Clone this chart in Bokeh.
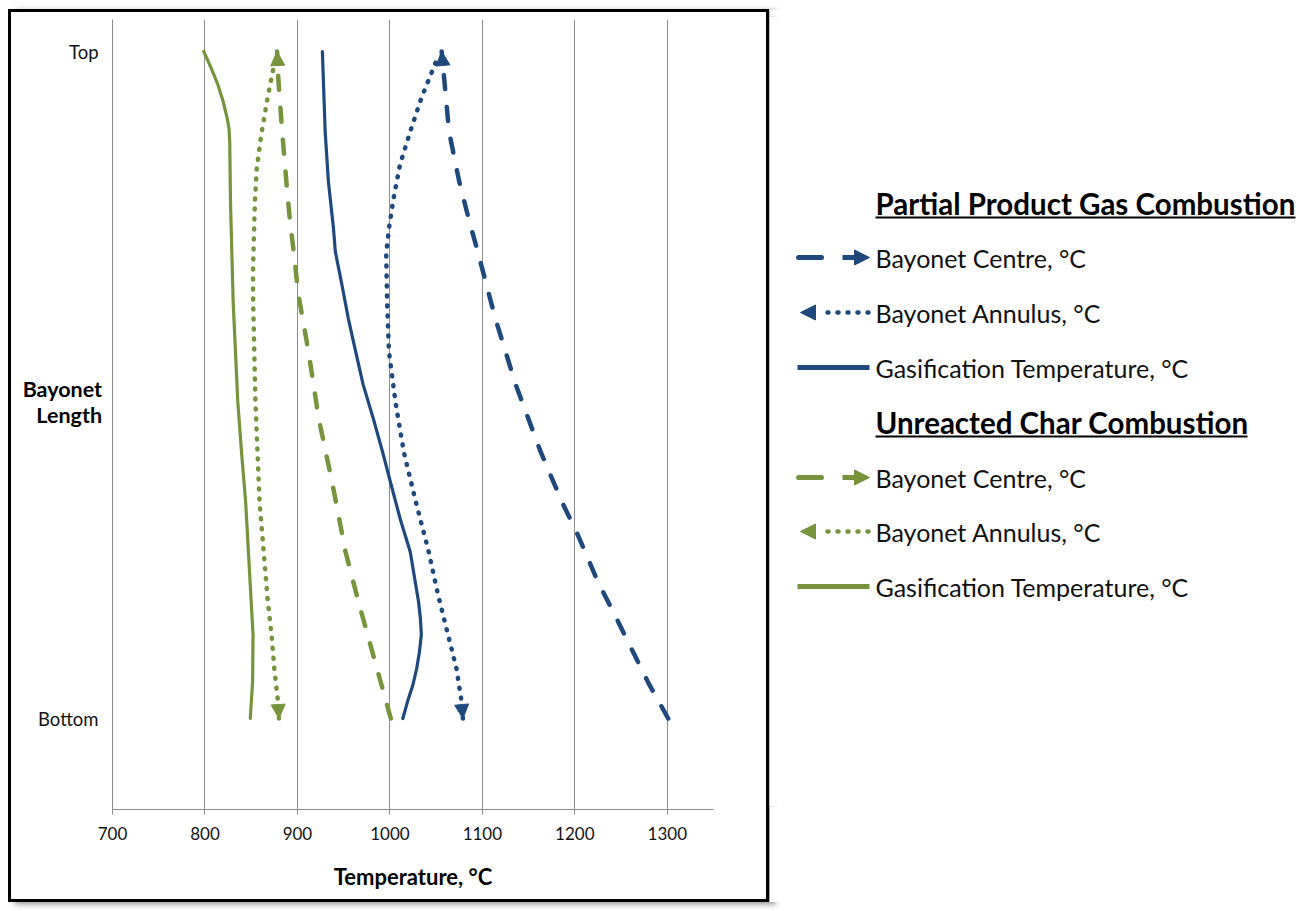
from bokeh.plotting import figure
from bokeh.models import Range1d, FixedTicker, Arrow, NormalHead, Spacer
from bokeh.layouts import row, column
from bokeh.embed import file_html
from bokeh.resources import INLINE
from bokeh.core.properties import value

# ---------------- data (position along bayonet: 0 = Bottom, 1 = Top; temperature in °C)
y_ticks = [0, 1]
y_tick_labels = ["Bottom", "Top"]
x_ticks = [700, 800, 900, 1000, 1100, 1200, 1300]

# Partial Product Gas Combustion
ppgc_centre_pos = [0.000, 0.055, 0.111, 0.156, 0.205, 0.276, 0.325, 0.400, 0.501, 0.600, 0.700, 0.745, 0.805, 0.880, 0.955, 1.000]
ppgc_centre_temp = [1301, 1279, 1259, 1243, 1225, 1203, 1186, 1163, 1136, 1114, 1095, 1086, 1075, 1064, 1059, 1056]

ppgc_annulus_pos = [0.000, 0.030, 0.075, 0.186, 0.250, 0.325, 0.400, 0.475, 0.550, 0.625, 0.696, 0.735, 0.780, 0.831, 0.880, 0.930, 0.982, 0.992]
ppgc_annulus_temp = [1079, 1077, 1072, 1052, 1042, 1028, 1015, 1006, 999, 997, 996, 999, 1004, 1011, 1022, 1034, 1049, 1053]

ppgc_gasif_pos = [0.000, 0.025, 0.051, 0.075, 0.100, 0.126, 0.150, 0.175, 0.250, 0.300, 0.355, 0.400, 0.450, 0.501, 0.550, 0.600, 0.651, 0.700, 0.735, 0.805, 0.880, 1.000]
ppgc_gasif_temp = [1014, 1019, 1025, 1029, 1032, 1034, 1033, 1031, 1022, 1011, 1000.5, 992, 982, 971, 963, 955, 948, 941, 939, 933.5, 930, 927]

# Unreacted Char Combustion
ucc_centre_pos = [0.000, 0.060, 0.115, 0.175, 0.250, 0.351, 0.450, 0.550, 0.636, 0.700, 0.745, 0.805, 0.880, 0.955, 1.000]
ucc_centre_temp = [1001, 989, 978, 966, 952, 938, 923, 912, 901, 896, 892, 888, 883.5, 879.5, 878]

ucc_annulus_pos = [0.000, 0.025, 0.075, 0.126, 0.175, 0.325, 0.475, 0.633, 0.675, 0.726, 0.775, 0.825, 0.876, 0.925, 0.975, 0.990]
ucc_annulus_temp = [880, 879, 875, 872, 868, 859, 854.6, 852, 852, 853, 854, 856, 861, 867, 874, 877]

ucc_gasif_pos = [0.000, 0.055, 0.126, 0.175, 0.325, 0.400, 0.475, 0.625, 0.775, 0.865, 0.885, 0.900, 0.925, 0.951, 0.975, 1.000]
ucc_gasif_temp = [849, 851.5, 852, 850, 844, 839.5, 835.5, 830.5, 827.6, 826.8, 826, 824, 819.7, 813.8, 806.7, 798.7]

group_titles = ["Partial Product Gas Combustion", "Unreacted Char Combustion"]
series_labels = ["Bayonet Centre, °C", "Bayonet Annulus, °C", "Gasification Temperature, °C"]
y_title = "Bayonet\nLength\n "

BLUE = "#1F497D"
GREEN = "#77933C"
GRID = "#8C8C8C"
FONT = "Lato"

groups = [
    (BLUE, (ppgc_centre_temp, ppgc_centre_pos), (ppgc_annulus_temp, ppgc_annulus_pos), (ppgc_gasif_temp, ppgc_gasif_pos)),
    (GREEN, (ucc_centre_temp, ucc_centre_pos), (ucc_annulus_temp, ucc_annulus_pos), (ucc_gasif_temp, ucc_gasif_pos)),
]

# ---------------- main chart
p = figure(width=761, height=893,
           x_range=Range1d(700, 1350), y_range=Range1d(-0.1364, 1.048),
           output_backend="svg", toolbar_location=None,
           min_border_left=101, min_border_right=59, min_border_top=7, min_border_bottom=96,
           styles={"border": "3px solid #000000", "box-shadow": "7px 2px 6px rgba(0,0,0,0.45)"})
p.outline_line_color = None
p.background_fill_color = "white"
p.border_fill_color = "white"

p.xaxis.ticker = FixedTicker(ticks=x_ticks)
p.xgrid.ticker = FixedTicker(ticks=x_ticks)
p.xgrid.grid_line_color = GRID
p.xgrid.grid_line_width = 1
p.ygrid.visible = False

p.xaxis.axis_line_color = GRID
p.xaxis.major_tick_line_color = GRID
p.xaxis.major_tick_out = 5
p.xaxis.major_tick_in = 0
p.xaxis.minor_tick_line_color = None
p.xaxis.major_label_standoff = 12
p.xaxis.major_label_text_font = FONT
p.xaxis.major_label_text_font_size = "17px"
p.xaxis.major_label_text_color = "#111111"
p.xaxis.axis_label = "Temperature, °C"
p.xaxis.axis_label_text_font = FONT
p.xaxis.axis_label_text_font_style = "bold"
p.xaxis.axis_label_text_font_size = "22px"
p.xaxis.axis_label_text_color = "#000000"
p.xaxis.axis_label_standoff = 20

p.yaxis.ticker = FixedTicker(ticks=y_ticks)
p.yaxis.major_label_overrides = {t: l for t, l in zip(y_ticks, y_tick_labels)}
p.yaxis.axis_line_color = GRID
p.yaxis.major_tick_out = 0
p.yaxis.major_tick_in = 0
p.yaxis.minor_tick_line_color = None
p.yaxis.major_label_standoff = 14
p.yaxis.major_label_text_font = FONT
p.yaxis.major_label_text_font_size = "18.5px"
p.yaxis.major_label_text_color = "#111111"
# horizontal axis title pulled into the tick-label column
p.yaxis.axis_label = y_title
p.yaxis.axis_label_orientation = "horizontal"
p.yaxis.axis_label_text_font = FONT
p.yaxis.axis_label_text_font_size = "21.5px"
p.yaxis.axis_label_text_font_style = "bold"
p.yaxis.axis_label_text_color = "#000000"
p.yaxis.axis_label_text_align = "center"
p.yaxis.axis_label_text_line_height = 1.0
p.yaxis.axis_label_standoff = -67

for color, centre, annulus, gasif in groups:
    ct, cp = centre
    at, ap = annulus
    gt, gp = gasif
    p.line(ct, cp, line_color=color, line_width=4.5, line_dash="14 18", line_cap="round")
    p.line(at, ap, line_color=color, line_width=4.5, line_dash="1 9", line_cap="round")
    p.line(gt, gp, line_color=color, line_width=3.2, line_cap="round", line_join="round")
    # centre flows upward: arrow head at the top end
    p.add_layout(Arrow(end=NormalHead(size=14, fill_color=color, line_color=color, line_width=1),
                       x_start=ct[-2], y_start=cp[-2], x_end=ct[-1], y_end=cp[-1], line_alpha=0))
    # annulus flows downward: arrow head at the bottom end
    p.add_layout(Arrow(end=NormalHead(size=14, fill_color=color, line_color=color, line_width=1),
                       x_start=at[1], y_start=ap[1], x_end=at[0], y_end=ap[0], line_alpha=0))

# ---------------- legend panel (page-pixel coordinates; its frame aligns with the chart frame)
lg = figure(width=530, height=893, x_range=Range1d(769, 1299), y_range=Range1d(808, 18),
            output_backend="svg", toolbar_location=None, min_border=0,
            x_axis_type=None, y_axis_type=None)
lg.grid.visible = False
lg.outline_line_color = None
lg.background_fill_color = "white"
lg.border_fill_color = "white"

title_y = [205, 424]
underline_len = [420, 372]
row_y = [[259, 314, 369], [479, 533, 588]]
TX = 875

for gi, (color, *_rest) in enumerate(groups):
    lg.text(x=[TX], y=[title_y[gi]], text=[group_titles[gi]], text_font=value(FONT),
            text_font_size="29.5px", text_font_style="bold", text_baseline="middle",
            text_color="#000000")
    lg.segment(x0=[TX], y0=[title_y[gi] + 14], x1=[TX + underline_len[gi]], y1=[title_y[gi] + 14],
               line_color="#000000", line_width=2.2)
    ys = row_y[gi]
    # centre: dash then arrow
    lg.segment(x0=[798], y0=[ys[0]], x1=[821], y1=[ys[0]], line_color=color, line_width=5, line_cap="round")
    lg.add_layout(Arrow(end=NormalHead(size=15, fill_color=color, line_color=color, line_width=1),
                        x_start=842, y_start=ys[0], x_end=869, y_end=ys[0],
                        line_color=color, line_width=5))
    # annulus: arrow then dots
    lg.segment(x0=[827], y0=[ys[1]], x1=[869], y1=[ys[1]], line_color=color, line_width=4.5,
               line_dash="1 9", line_cap="round")
    lg.add_layout(Arrow(end=NormalHead(size=15, fill_color=color, line_color=color, line_width=1),
                        x_start=821, y_start=ys[1], x_end=800, y_end=ys[1], line_alpha=0))
    # gasification: solid
    lg.segment(x0=[797], y0=[ys[2]], x1=[869], y1=[ys[2]], line_color=color, line_width=5)
    for label, yy in zip(series_labels, ys):
        lg.text(x=[TX], y=[yy], text=[label], text_font=value(FONT), text_font_size="25px",
                text_baseline="middle", text_color="#111111")

layout = column(Spacer(height=9), row(Spacer(width=8), p, lg))
open("out.html", "w").write(file_html(layout, INLINE))
